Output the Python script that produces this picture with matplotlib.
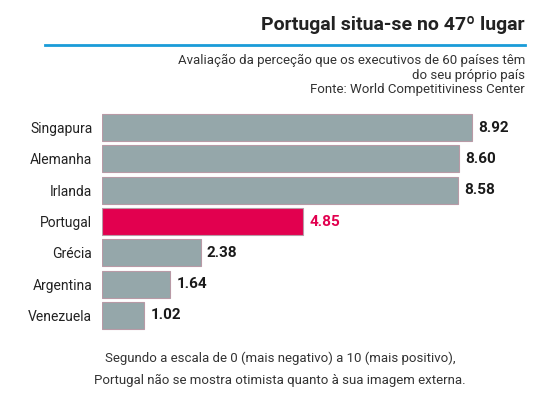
import matplotlib.pyplot as plt
from matplotlib.lines import Line2D

countries = ["Singapura", "Alemanha", "Irlanda", "Portugal", "Grécia", "Argentina", "Venezuela"]
scores = [8.92, 8.60, 8.58, 4.85, 2.38, 1.64, 1.02]
highlight = "Portugal"

W, H = 560, 409
plt.rcParams['font.family'] = ['Roboto', 'DejaVu Sans']
fig = plt.figure(figsize=(W / 100, H / 100), dpi=100)

def px(x, y):
    return x / W, 1 - y / H

# bars axis: x 102..517 for 0..10, y 112..331
ax = fig.add_axes([102 / W, 1 - 331 / H, 415 / W, 219 / H])
ypos = list(range(len(countries)))
colors = ["#e2004f" if c == highlight else "#95a7aa" for c in countries]
ax.barh(ypos, scores, height=0.86, color=colors, edgecolor="#b89aa6", linewidth=0.8)
for y, c, v in zip(ypos, countries, scores):
    col = "#e2004f" if c == highlight else "#1a1a1a"
    ax.text(v + 0.15, y, f"{v:.2f}", va="center", ha="left", fontsize=11,
            fontweight="bold", color=col)
ax.set_xlim(0, 10)
ax.set_ylim(len(countries) - 0.5, -0.5)
ax.set_yticks(ypos)
ax.set_yticklabels(countries, fontsize=10, color="#222222")
ax.tick_params(axis="y", length=0, pad=7)
ax.set_xticks([])
for s in ax.spines.values():
    s.set_visible(False)

fig.text(*px(525, 25), "Portugal situa-se no 47º lugar", ha="right", va="center",
         fontsize=14, fontweight="bold", color="#222222")
fig.add_artist(Line2D([45 / W, 525 / W], [1 - 45 / H] * 2, color="#1a9cd8", linewidth=2))
subs = ["Avaliação da perceção que os executivos de 60 países têm",
        "do seu próprio país", "Fonte: World Competitiviness Center"]
for i, s in enumerate(subs):
    fig.text(*px(525, 60 + 15 * i), s, ha="right", va="center", fontsize=9.5, color="#333333")
fig.text(*px(280, 358), "Segundo a escala de 0 (mais negativo) a 10 (mais positivo),",
         ha="center", va="center", fontsize=9.5, color="#333333")
fig.text(*px(280, 380), "Portugal não se mostra otimista quanto à sua imagem externa.",
         ha="center", va="center", fontsize=9.5, color="#333333")

fig.savefig("out.png", dpi=100, facecolor="white")
